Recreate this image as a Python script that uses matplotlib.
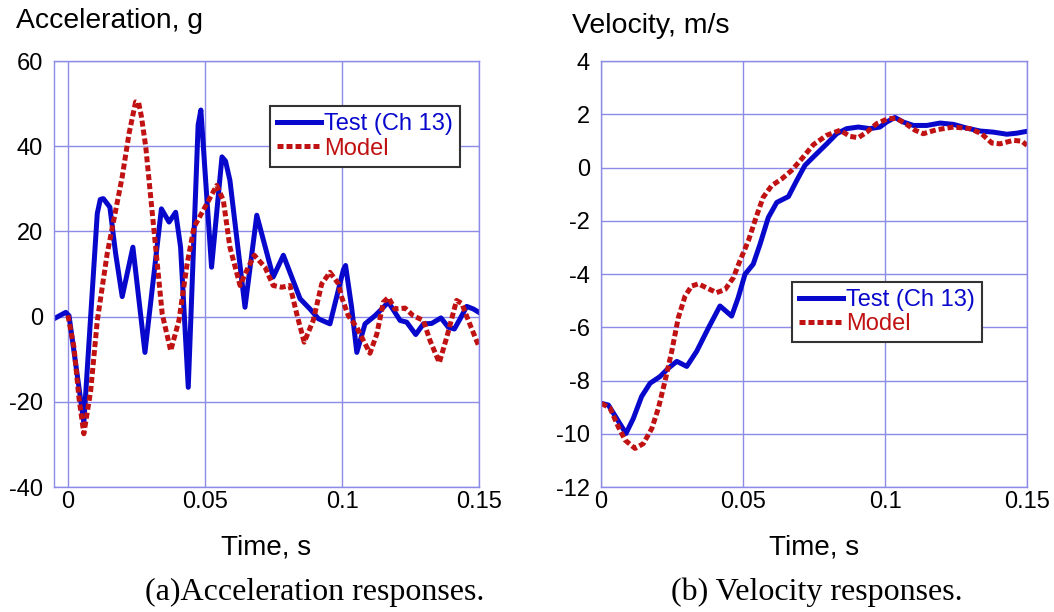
import numpy as np
import matplotlib
matplotlib.use("Agg")
import matplotlib.pyplot as plt

plt.rcParams['font.family'] = ['Liberation Sans', 'DejaVu Sans']

# (a) acceleration, g
acc_test_t = [-0.0051, -0.0008, 0.0004, 0.0058, 0.0107, 0.0118, 0.0129, 0.0153, 0.0174, 0.0198,
              0.0237, 0.0281, 0.0341, 0.0369, 0.0393, 0.0411, 0.0439, 0.0475, 0.0485,
              0.0524, 0.0562, 0.0575, 0.0591, 0.0646, 0.0689, 0.0749, 0.0786, 0.0847, 0.0883,
              0.0914, 0.0956, 0.1005, 0.1013, 0.1035, 0.1054, 0.1084, 0.112, 0.1139,
              0.1169, 0.1212, 0.1236, 0.1269, 0.1297, 0.1327, 0.1361, 0.1388, 0.141,
              0.1431, 0.1455, 0.1479, 0.150]
acc_test = [-0.5, 1.0, 0.2, -24.9, 24.2, 27.5, 27.7, 25.7, 14.8, 4.7,
            16.3, -8.4, 25.3, 22.2, 24.5, 16.3, -16.6, 45.0, 48.5,
            11.6, 37.5, 36.5, 32.0, 2.2, 23.8, 9.3, 14.4, 4.2, 1.8,
            -0.5, -1.7, 11.0, 12.0, 2.2, -8.4, -1.7, 0.2, 1.4,
            3.4, -0.9, -1.3, -4.2, -1.7, -1.6, -0.3, -2.5, -2.9,
            -0.5, 2.4, 1.8, 1.0]

acc_model_t = [0.0, 0.0022, 0.004, 0.0058, 0.0083, 0.0107, 0.0143, 0.0174, 0.0198,
               0.0223, 0.0247, 0.0258, 0.0268, 0.0284, 0.0314, 0.0344, 0.0375, 0.0405, 0.0435,
               0.046, 0.05, 0.0543, 0.0567, 0.0591, 0.0628, 0.0652, 0.068, 0.0719,
               0.0749, 0.078, 0.081, 0.0835, 0.0862, 0.0895, 0.0926, 0.0956, 0.0987,
               0.0999, 0.1023, 0.1054, 0.1078, 0.1102, 0.1127, 0.1151, 0.1169, 0.1193,
               0.123, 0.126, 0.1297, 0.1321, 0.1355, 0.1382, 0.1418, 0.1437, 0.1461,
               0.150]
acc_model = [0.3, -7.2, -19.0, -27.5, -17.4, -1.0, 14.7, 24.9, 32.8,
             43.0, 50.4, 50.2, 47.0, 39.8, 20.2, 0.6, -8.0, -0.9, 12.4,
             21.0, 25.7, 30.8, 27.3, 16.3, 7.3, 10.8, 14.4, 11.6,
             7.3, 6.9, 7.3, 0.6, -6.0, -0.9, 7.7, 10.4, 7.7,
             4.5, 0.2, -2.5, -5.6, -8.6, -4.1, 3.4, 4.5, 1.8,
             2.0, 0.2, -0.9, -5.6, -10.8, -4.9, 3.8, 3.1, -0.9,
             -7.1]

# (b) velocity, m/s
vel_test_t = [0.0002, 0.0026, 0.0055, 0.0088, 0.0114, 0.0143, 0.0173, 0.0208, 0.0237,
              0.0267, 0.0302, 0.0337, 0.0378, 0.0419, 0.046, 0.0483, 0.0507, 0.0536,
              0.056, 0.0589, 0.0619, 0.066, 0.0689, 0.0718, 0.0748, 0.0795, 0.083,
              0.0865, 0.0906, 0.0947, 0.0982, 0.1006, 0.1035, 0.1064, 0.11, 0.1147,
              0.1194, 0.1241, 0.1288, 0.1335, 0.1381, 0.1429, 0.1464, 0.150]
vel_test = [-8.86, -8.92, -9.42, -9.99, -9.42, -8.6, -8.1, -7.85, -7.54,
            -7.28, -7.47, -6.9, -6.03, -5.2, -5.58, -4.89, -4.01, -3.63,
            -2.88, -1.88, -1.31, -1.09, -0.49, 0.08, 0.4, 0.89, 1.27,
            1.46, 1.52, 1.46, 1.52, 1.71, 1.88, 1.71, 1.58, 1.58,
            1.67, 1.62, 1.48, 1.37, 1.33, 1.25, 1.29, 1.36]

vel_model_t = [0.0002, 0.0032, 0.0061, 0.0085, 0.012, 0.0149, 0.0179, 0.0202, 0.0225,
               0.0249, 0.0272, 0.0296, 0.0319, 0.0343, 0.0372, 0.0407, 0.0437, 0.0466,
               0.0489, 0.0519, 0.0548, 0.0571, 0.0601, 0.0636, 0.0671, 0.0707, 0.0748,
               0.0795, 0.0842, 0.0877, 0.0906, 0.0936, 0.0971, 0.1012, 0.1041, 0.1076,
               0.1106, 0.1135, 0.1182, 0.1241, 0.1299, 0.134, 0.1376, 0.1405, 0.1452,
               0.1482, 0.150]
vel_model = [-8.86, -9.04, -9.74, -10.24, -10.55, -10.37, -9.8, -9.04, -8.04,
             -6.91, -5.65, -4.83, -4.45, -4.37, -4.52, -4.7, -4.58, -4.14,
             -3.51, -2.75, -1.81, -1.12, -0.68, -0.43, -0.11, 0.33, 0.86,
             1.21, 1.4, 1.17, 1.12, 1.33, 1.65, 1.84, 1.84, 1.62,
             1.4, 1.27, 1.42, 1.52, 1.46, 1.27, 0.92, 0.89, 1.02,
             0.99, 0.83]

x_ticks = [0, 0.05, 0.1, 0.15]
x_ticklabels = ['0', '0.05', '0.1', '0.15']

BLUE = '#0808cc'
RED = '#c01212'
GRID = '#8c8ce8'

fig = plt.figure(figsize=(10.54, 6.12), dpi=100)


def style_axes(ax, xlim, ylim, yticks):
    ax.set_xlim(*xlim)
    ax.set_ylim(*ylim)
    ax.set_xticks(x_ticks)
    ax.set_xticklabels(x_ticklabels)
    ax.set_yticks(yticks)
    ax.set_yticklabels([f'{v:g}' for v in yticks])
    ax.grid(True, color=GRID, lw=1.0)
    ax.set_axisbelow(True)
    for s in ax.spines.values():
        s.set_color(GRID)
        s.set_linewidth(1.0)
    ax.tick_params(axis='both', length=0, labelsize=17)
    ax.tick_params(axis='y', pad=8)
    ax.tick_params(axis='x', pad=3)


def add_legend(ax, anchor):
    leg = ax.legend(loc='upper left', bbox_to_anchor=anchor, borderaxespad=0,
                    fontsize=17, handlelength=1.85, handletextpad=0.15,
                    labelspacing=0.1, borderpad=0.3, fancybox=False,
                    framealpha=1, edgecolor='#333333')
    leg.get_frame().set_linewidth(1.5)
    for txt, c in zip(leg.get_texts(), [BLUE, RED]):
        txt.set_color(c)


dash = (0, (1.2, 0.6))

# (a)
ax1 = fig.add_axes([0.0512, 0.2042, 0.4033, 0.6961])
ax1.plot(acc_test_t, acc_test, color=BLUE, lw=3.6, label='Test (Ch 13)')
ax1.plot(acc_model_t, acc_model, color=RED, lw=3.6, ls=dash, label='Model')
style_axes(ax1, (-0.0051, 0.15), (-40, 60), [-40, -20, 0, 20, 40, 60])
add_legend(ax1, (0.508, 0.894))

# (b)
ax2 = fig.add_axes([0.5702, 0.2042, 0.4042, 0.6961])
ax2.plot(vel_test_t, vel_test, color=BLUE, lw=3.6, label='Test (Ch 13)')
ax2.plot(vel_model_t, vel_model, color=RED, lw=3.6, ls=dash, label='Model')
style_axes(ax2, (0, 0.15), (-12, 4), [-12, -10, -8, -6, -4, -2, 0, 2, 4])
add_legend(ax2, (0.448, 0.482))

# axis titles and captions
fig.text(16 / 1054, 1 - 28 / 612, 'Acceleration, g', fontsize=20.3, va='baseline')
fig.text(572 / 1054, 1 - 33 / 612, 'Velocity, m/s', fontsize=20.5, va='baseline')
fig.text(266 / 1054, 1 - 547 / 612, 'Time, s', fontsize=20, ha='center', va='center')
fig.text(814 / 1054, 1 - 547 / 612, 'Time, s', fontsize=20, ha='center', va='center')
fig.text(315 / 1054, 1 - 592 / 612, '(a)Acceleration responses.', fontsize=23,
         ha='center', va='center', family=['Liberation Serif', 'DejaVu Serif'])
fig.text(817 / 1054, 1 - 592 / 612, '(b) Velocity responses.', fontsize=23,
         ha='center', va='center', family=['Liberation Serif', 'DejaVu Serif'])

fig.savefig('out.png', dpi=100)
